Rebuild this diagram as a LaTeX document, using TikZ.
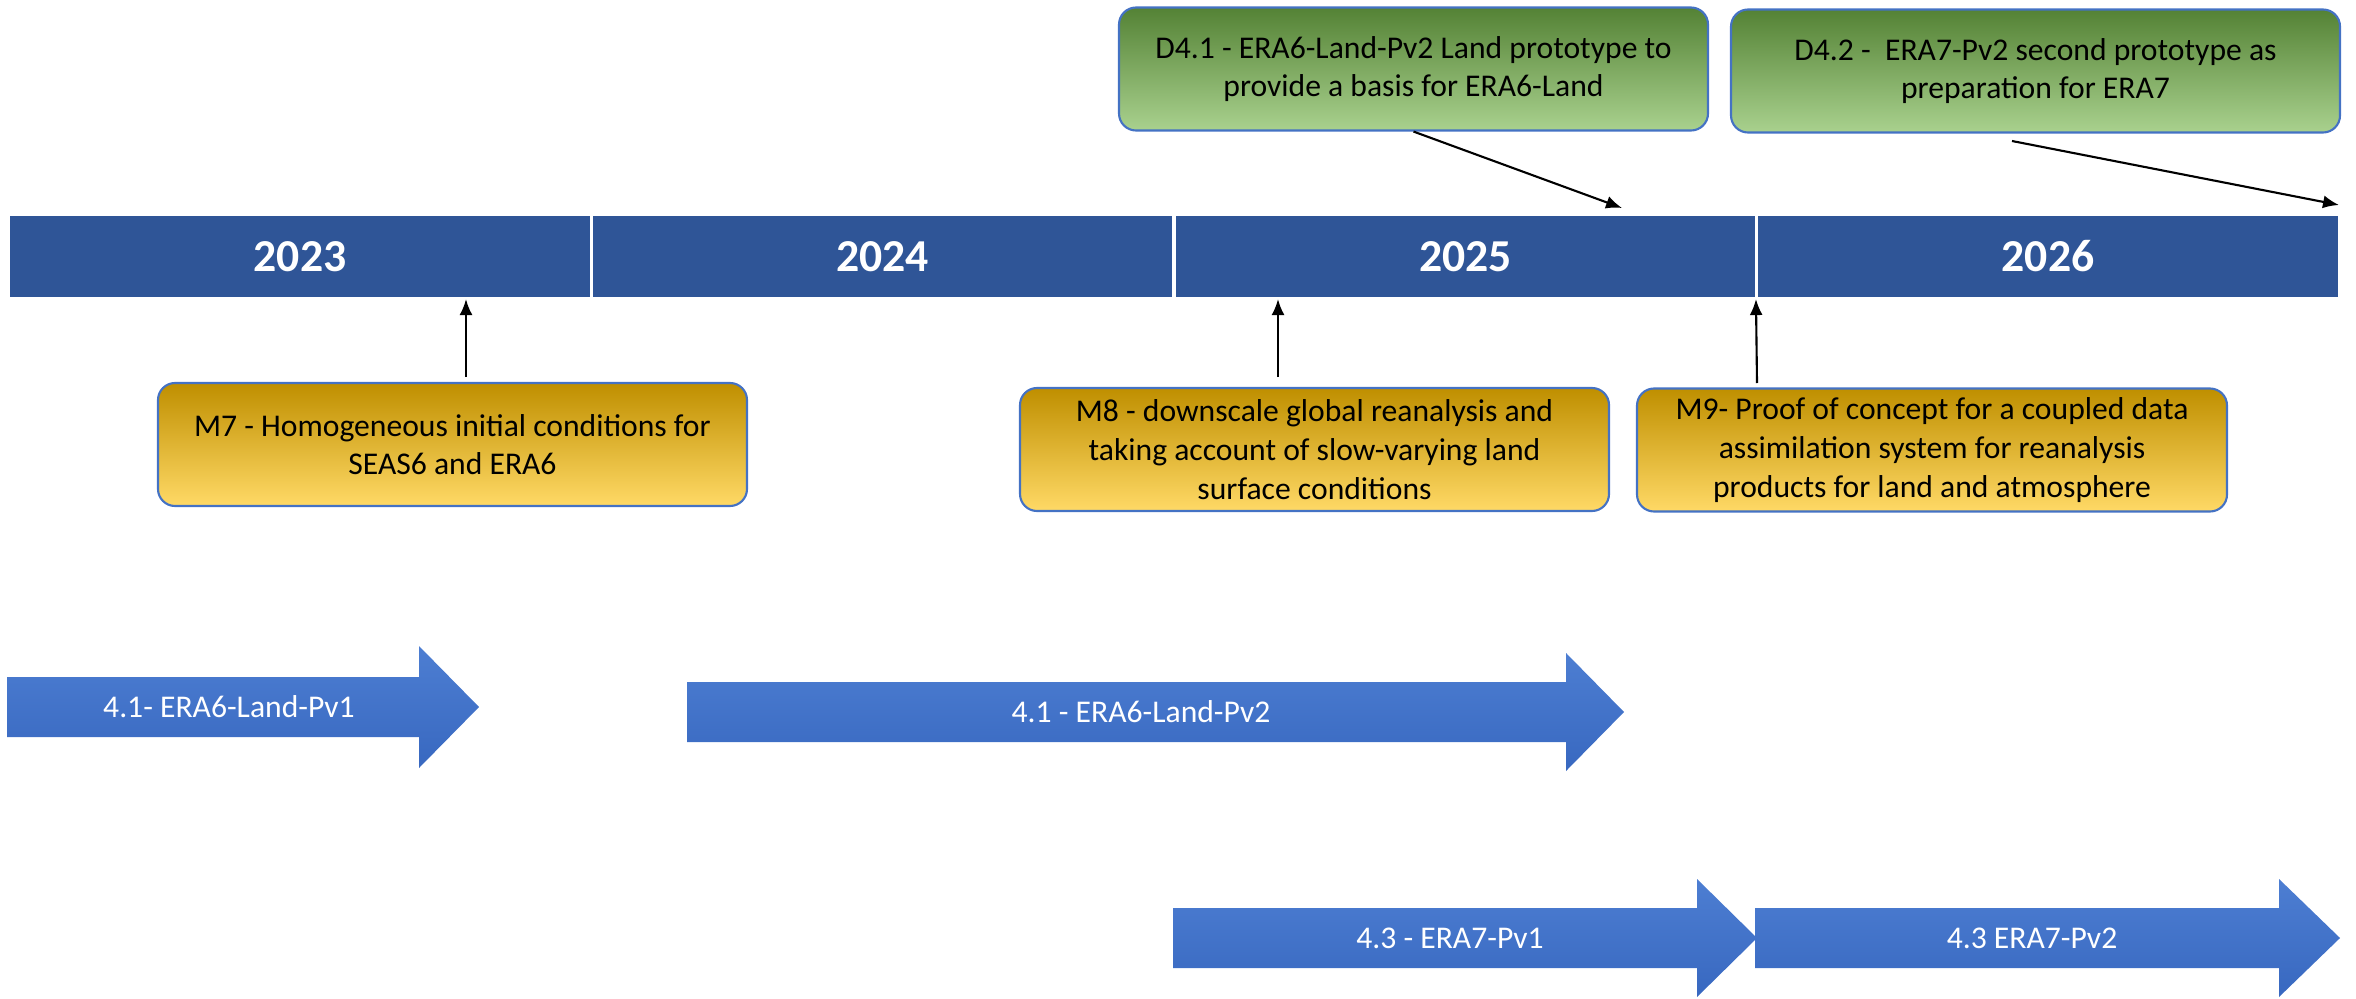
\documentclass[tikz,border=0pt]{standalone}
\usepackage{fontspec}
\setmainfont{Carlito}
\usetikzlibrary{arrows.meta}

\definecolor{yearblue}{HTML}{2F5597}
\definecolor{edgeblue}{HTML}{4472C4}
\definecolor{goldtop}{HTML}{BF8F00}
\definecolor{goldbot}{HTML}{FFD966}
\definecolor{greentop}{HTML}{548235}
\definecolor{greenbot}{HTML}{A9D18E}
\definecolor{arrowtop}{HTML}{4D7ED2}
\definecolor{arrowbot}{HTML}{3868C0}

\tikzset{
  yearbox/.style={fill=yearblue, draw=white, line width=0.6pt, minimum width=5.82cm,
    minimum height=0.83cm, inner sep=0pt, text=white, font=\fontsize{13}{15}\selectfont\bfseries},
  milestone/.style={draw=edgeblue, line width=0.6pt, rounded corners=0.17cm,
    top color=goldtop, bottom color=goldbot, minimum width=5.89cm, minimum height=1.23cm,
    inner sep=0pt, align=center, font=\fontsize{9}{11}\selectfont},
  deliverable/.style={milestone, top color=greentop, bottom color=greenbot},
  tasklabel/.style={text=white, font=\fontsize{9}{11}\selectfont},
  taskarrow/.style={top color=arrowtop, bottom color=arrowbot},
}

\begin{document}
\begin{tikzpicture}[x=1cm, y=-1cm, >={Latex[length=1.6mm,width=1.3mm]}]
  \useasboundingbox (0,0) rectangle (23.56,9.99);

  % years
  \node[yearbox] (y2023) at (3.00, 2.565) {2023};
  \node[yearbox] (y2024) at (8.825, 2.565) {2024};
  \node[yearbox] (y2025) at (14.655, 2.565) {2025};
  \node[yearbox] (y2026) at (20.48, 2.565) {2026};

  % deliverables
  \node[deliverable] (d41) at (14.135, 0.69) {D4.1 - ERA6-Land-Pv2 Land prototype to\\provide a basis for ERA6-Land};
  \node[deliverable, minimum width=6.09cm] (d42) at (20.355, 0.71) {D4.2 - ~ERA7-Pv2 second prototype as\\preparation for ERA7};

  % milestones
  \node[milestone] (m7) at (4.525, 4.445) {M7 - Homogeneous initial conditions for\\SEAS6 and ERA6};
  \node[milestone] (m8) at (13.145, 4.495) {M8 - downscale global reanalysis and\\taking account of slow-varying land\\surface conditions};
  \node[milestone, minimum width=5.9cm] (m9) at (19.32, 4.50) {M9- Proof of concept for a coupled data\\assimilation system for reanalysis\\products for land and atmosphere};

  \coordinate (d41to) at (16.22, 2.08);
  \coordinate (d42from) at (20.12, 1.41);
  \coordinate (d42to) at (23.39, 2.05);
  \coordinate (m7from) at (4.66, 3.77);
  \coordinate (m8from) at (12.78, 3.77);
  \coordinate (m9from) at (17.57, 3.83);

  \draw[->, semithick] (d41.south) -- (d41to);
  \draw[->, semithick] (d42from) -- (d42to);
  \draw[->, semithick] (m7from) -- (m7from |- y2023.south);
  \draw[->, semithick] (m8from) -- (m8from |- y2025.south);
  \draw[->, semithick] (m9from) -- (y2026.south west);

  % task arrows
  \shade[taskarrow] (0.07,6.77) -- (4.19,6.77) -- (4.19,6.46) -- (4.79,7.07)
    -- (4.19,7.68) -- (4.19,7.37) -- (0.07,7.37) -- cycle;
  \node[tasklabel] (pv1) at (2.29, 7.07) {4.1- ERA6-Land-Pv1};

  \shade[taskarrow] (6.87,6.82) -- (15.66,6.82) -- (15.66,6.53) -- (16.24,7.12)
    -- (15.66,7.71) -- (15.66,7.42) -- (6.87,7.42) -- cycle;
  \node[tasklabel] (pv2) at (11.41, 7.12) {4.1 - ERA6-Land-Pv2};

  \shade[taskarrow] (11.73,9.08) -- (16.97,9.08) -- (16.97,8.79) -- (17.57,9.38)
    -- (16.97,9.97) -- (16.97,9.68) -- (11.73,9.68) -- cycle;
  \node[tasklabel] (era7a) at (14.50, 9.38) {4.3 - ERA7-Pv1};

  \shade[taskarrow] (17.55,9.08) -- (22.79,9.08) -- (22.79,8.79) -- (23.40,9.38)
    -- (22.79,9.97) -- (22.79,9.68) -- (17.55,9.68) -- cycle;
  \node[tasklabel] (era7b) at (20.32, 9.38) {4.3 ERA7-Pv2};
\end{tikzpicture}
\end{document}
